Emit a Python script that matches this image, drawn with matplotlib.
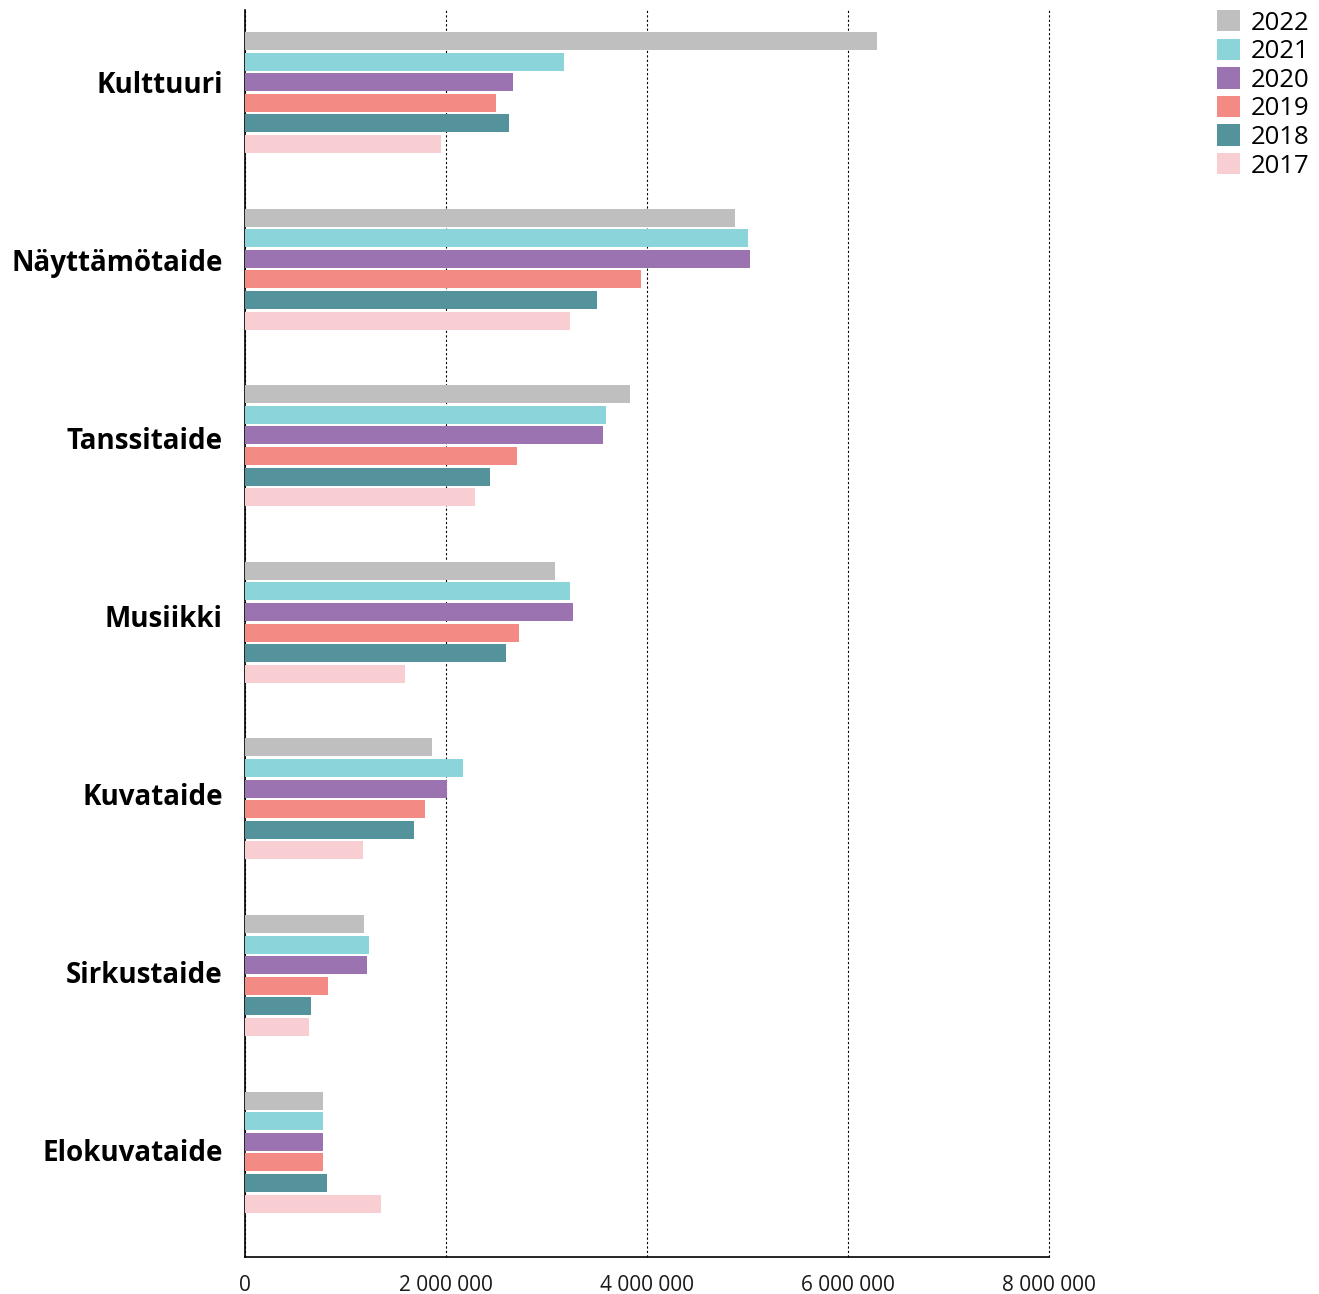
import matplotlib
matplotlib.use("Agg")
import matplotlib.pyplot as plt
from matplotlib.patches import Patch
import numpy as np

categories = ["Kulttuuri", "Näyttämötaide", "Tanssitaide", "Musiikki", "Kuvataide", "Sirkustaide", "Elokuvataide"]
years = ["2022", "2021", "2020", "2019", "2018", "2017"]
colors = ["#BFBFBF", "#8AD4DA", "#9A73B0", "#F48A84", "#54939B", "#F9CED2"]

v2022 = [6290000, 4880000, 3830000, 3080000, 1860000, 1180000, 780000]
v2021 = [3170000, 5000000, 3590000, 3230000, 2170000, 1230000, 780000]
v2020 = [2670000, 5020000, 3560000, 3260000, 2010000, 1210000, 780000]
v2019 = [2500000, 3940000, 2710000, 2730000, 1790000, 830000, 780000]
v2018 = [2630000, 3500000, 2440000, 2600000, 1680000, 660000, 820000]
v2017 = [1950000, 3230000, 2290000, 1590000, 1170000, 640000, 1350000]
series = [v2022, v2021, v2020, v2019, v2018, v2017]

xticks = [0, 2000000, 4000000, 6000000, 8000000]
xticklabels = ["0", "2 000 000", "4 000 000", "6 000 000", "8 000 000"]

plt.rcParams["font.family"] = ["Open Sans", "DejaVu Sans"]

W, H = 1319, 1294
fig = plt.figure(figsize=(W / 100, H / 100), dpi=100)
ax = fig.add_axes([245 / W, (H - 1257) / H, (1049 - 245) / W, (1257 - 10) / H])

pitch = 176.6
step = 20.6 / pitch
bh = 18.0 / pitch
y = np.arange(len(categories))
for k, (vals, c, yr) in enumerate(zip(series, colors, years)):
    ax.barh(y + (k - 2.5) * step, vals, height=bh, color=c, label=yr, zorder=3)

ax.set_xlim(0, 8000000)
ax.set_ylim(6 + (1257 - 1152.1) / pitch, (10 - 92.5) / pitch)

ax.set_xticks(xticks)
ax.set_xticklabels(xticklabels, fontsize=15, color="#1a1a1a")
ax.set_yticks(y * 178 / pitch - 10.5 / pitch)
ax.set_yticklabels(categories, fontsize=20, fontweight="bold", color="#000000")
ax.tick_params(axis="x", length=0, pad=13)
ax.tick_params(axis="y", length=0, pad=16)

for s in ["top", "right"]:
    ax.spines[s].set_visible(False)
for s in ["left", "bottom"]:
    ax.spines[s].set_color("#000000")
    ax.spines[s].set_linewidth(1.2)
ax.xaxis.grid(True, linestyle=(0, (2, 2)), color="#000000", linewidth=0.8, zorder=0)
for gl in ax.get_xgridlines():
    gl.set_clip_on(False)
ax.set_axisbelow(True)

handles = [Patch(facecolor=c, edgecolor="none") for c in colors]
fig.legend(handles, years, loc="upper right", bbox_to_anchor=(1310 / W, (H - 10) / H),
           frameon=False, fontsize=18.5, handlelength=0.9, handleheight=0.9,
           handletextpad=0.42, labelspacing=0.12, borderpad=0, borderaxespad=0)

fig.savefig("out.png", dpi=100)
